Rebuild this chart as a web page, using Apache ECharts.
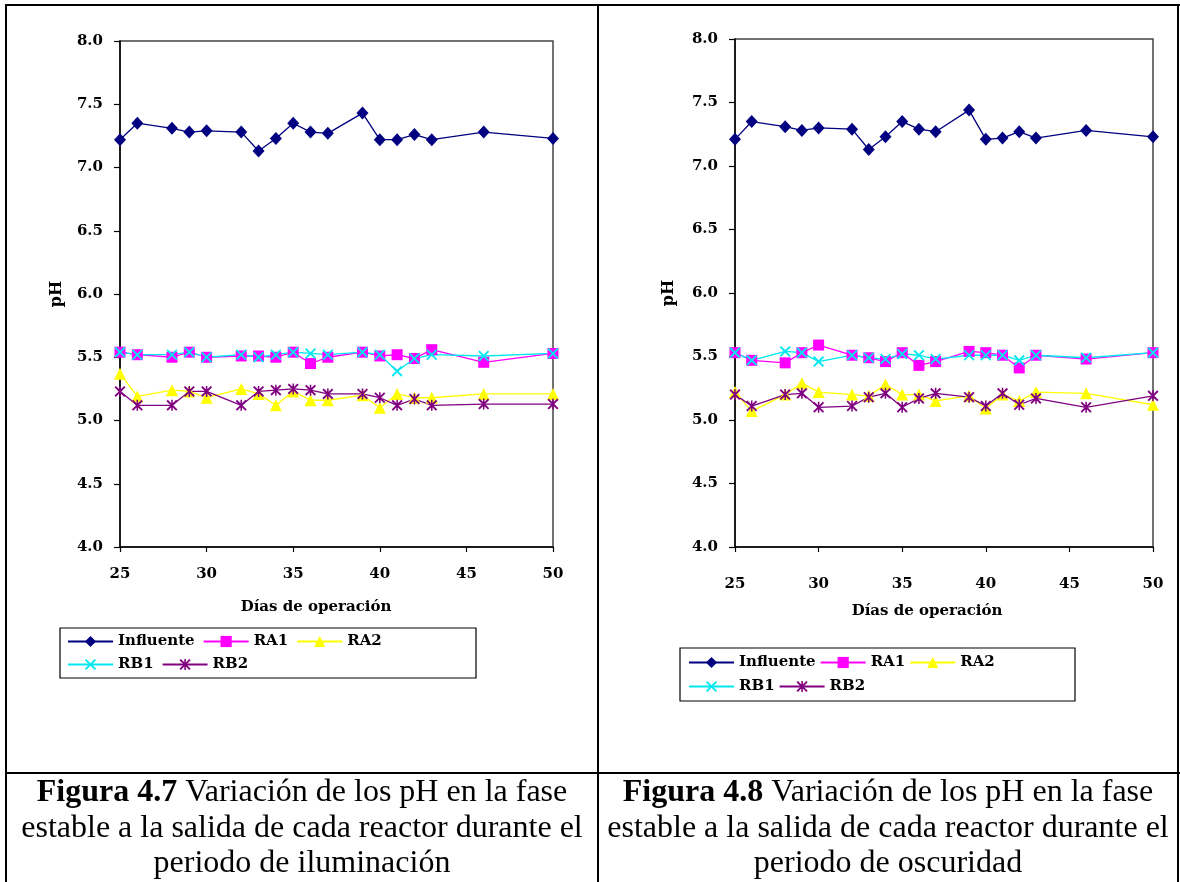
<!DOCTYPE html>
<html>
<head>
<meta charset="utf-8">
<script src="https://cdn.jsdelivr.net/npm/echarts@6/dist/echarts.min.js"></script>
<style>
html,body{margin:0;padding:0;background:#fff;}
#c{width:1180px;height:882px;}
</style>
</head>
<body>
<div id="c"></div>
<script>
// ---- data ----
const days = [25,26,28,29,30,32,33,34,35,36,37,39,40,41,42,43,46,50];
const seriesNames = ['Influente','RA1','RA2','RB1','RB2'];

// Figura 4.7 (iluminación)
const inf_L = [7.22,7.35,7.31,7.28,7.29,7.28,7.13,7.23,7.35,7.28,7.27,7.43,7.22,7.22,7.26,7.22,7.28,7.23];
const ra1_L = [5.54,5.52,5.50,5.54,5.50,5.51,5.51,5.50,5.54,5.45,5.50,5.54,5.51,5.52,5.49,5.56,5.46,5.53];
const ra2_L = [5.37,5.19,5.24,5.23,5.18,5.25,5.21,5.12,5.23,5.16,5.16,5.20,5.10,5.21,5.18,5.18,5.21,5.21];
const rb1_L = [5.54,5.52,5.52,5.54,5.50,5.52,5.50,5.52,5.54,5.53,5.52,5.54,5.52,5.39,5.49,5.52,5.51,5.53];
const rb2_L = [5.23,5.12,5.12,5.23,5.23,5.12,5.23,5.24,5.25,5.24,5.21,5.21,5.18,5.12,5.17,5.12,5.13,5.13];

// Figura 4.8 (oscuridad)
const inf_R = [7.21,7.35,7.31,7.28,7.30,7.29,7.13,7.23,7.35,7.29,7.27,7.44,7.21,7.22,7.27,7.22,7.28,7.23];
const ra1_R = [5.53,5.47,5.45,5.53,5.59,5.51,5.49,5.46,5.53,5.43,5.46,5.54,5.53,5.51,5.41,5.51,5.48,5.53];
const ra2_R = [5.22,5.07,5.20,5.29,5.22,5.20,5.19,5.28,5.20,5.20,5.15,5.19,5.09,5.20,5.15,5.22,5.21,5.12];
const rb1_R = [5.53,5.47,5.54,5.53,5.46,5.51,5.49,5.48,5.52,5.51,5.48,5.51,5.51,5.51,5.47,5.51,5.49,5.53];
const rb2_R = [5.20,5.11,5.20,5.21,5.10,5.11,5.18,5.21,5.10,5.17,5.21,5.18,5.11,5.21,5.12,5.17,5.10,5.19];

const xTicks = {min:25, max:50, step:5};
const yTicks = {min:4.0, max:8.0, step:0.5};
const xName = 'Días de operación';
const yName = 'pH';
const captionL = ['{b|Figura 4.7} Variación de los pH en la fase','estable a la salida de cada reactor durante el','periodo de iluminación'];
const captionR = ['{b|Figura 4.8} Variación de los pH en la fase','estable a la salida de cada reactor durante el','periodo de oscuridad'];

// ---- styles ----
const FONT = 'DejaVu Serif';
const CAPFONT = 'Liberation Serif';
const X_PATH = 'path://M0,1.2L1.2,0L5,3.8L8.8,0L10,1.2L6.2,5L10,8.8L8.8,10L5,6.2L1.2,10L0,8.8L3.8,5Z';
const AST_PATH = 'path://M0,1.2L1.2,0L5,3.8L8.8,0L10,1.2L6.2,5L10,8.8L8.8,10L5,6.2L1.2,10L0,8.8L3.8,5Z M4.3,0L5.7,0L5.7,10L4.3,10Z';
const styles = {
  'Influente': {color:'#000080', symbol:'diamond', size:[12,13]},
  'RA1': {color:'#FF00FF', symbol:'rect', size:11},
  'RA2': {color:'#FFFF00', symbol:'triangle', size:12},
  'RB1': {color:'#00E8F0', symbol:X_PATH, size:11},
  'RB2': {color:'#800080', symbol:AST_PATH, size:11}
};

function mk(name, vals, gi){
  const s = styles[name];
  return {
    type:'line', name:name, xAxisIndex:gi, yAxisIndex:gi,
    data: days.map((d,i)=>[d, vals[i]]),
    symbol:s.symbol, symbolSize:s.size, showAllSymbol:true,
    lineStyle:{color:s.color, width:1.3},
    itemStyle:{color:s.color},
    emphasis:{disabled:true},
    animation:false
  };
}

const grids = [
  {left:120, top:41, width:433, height:506},
  {left:735, top:39, width:418, height:508}
];

function xAxis(gi, margin){
  return {
    type:'value', gridIndex:gi, min:xTicks.min, max:xTicks.max, interval:xTicks.step,
    axisLine:{show:true, lineStyle:{color:'#000', width:1.5}},
    axisTick:{show:true, inside:false, length:5, lineStyle:{color:'#000', width:1.2}},
    axisLabel:{color:'#000', fontFamily:FONT, fontWeight:'bold', fontSize:15, margin:margin},
    splitLine:{show:false}
  };
}
function yAxis(gi, gap){
  return {
    type:'value', gridIndex:gi, min:yTicks.min, max:yTicks.max, interval:yTicks.step,
    name:yName, nameLocation:'middle', nameRotate:90, nameGap:gap,
    nameTextStyle:{color:'#000', fontFamily:FONT, fontWeight:'bold', fontSize:16},
    axisLine:{show:true, lineStyle:{color:'#000', width:1.5}},
    axisTick:{show:true, inside:false, length:6, lineStyle:{color:'#000', width:1.2}},
    axisLabel:{color:'#000', fontFamily:FONT, fontWeight:'bold', fontSize:15, margin:17,
      formatter:v=>v.toFixed(1)},
    splitLine:{show:false}
  };
}

function legend(names, left, top, textW, gap){
  return {
    data:names, left:left, top:top, orient:'horizontal', padding:0,
    itemWidth:45, itemHeight:14, itemGap:gap, selectedMode:false,
    textStyle:{color:'#000', fontFamily:FONT, fontWeight:'bold', fontSize:15, width:textW, overflow:'none'}
  };
}

function capText(lines, cx){
  const ys = [793, 829, 864];
  return lines.map((t,i)=>({
    type:'text', x:cx, y:ys[i], silent:true,
    style:{text:t, textAlign:'center', textVerticalAlign:'middle', fill:'#000',
      fontFamily:CAPFONT, fontSize:32,
      rich:{b:{fontFamily:CAPFONT, fontSize:32, fontWeight:'bold', fill:'#000'}}}
  }));
}
function line(x1,y1,x2,y2,w){
  return {type:'line', silent:true, shape:{x1,y1,x2,y2}, style:{stroke:'#000', lineWidth:w||2}};
}

const graphics = [
  line(5,5,1180,5), line(6,4,6,882), line(598,4,598,882), line(1178,4,1178,882),
  line(5,773,1180,773),
  {type:'rect', silent:true, shape:{x:60, y:628, width:416, height:50}, style:{fill:'none', stroke:'#000', lineWidth:1.2}},
  {type:'rect', silent:true, shape:{x:680, y:648, width:395, height:53}, style:{fill:'none', stroke:'#000', lineWidth:1.2}},
  {type:'text', x:316, y:607, silent:true, style:{text:xName, textAlign:'center', textVerticalAlign:'middle', fill:'#000', fontFamily:FONT, fontWeight:'bold', fontSize:15}},
  {type:'text', x:927, y:611, silent:true, style:{text:xName, textAlign:'center', textVerticalAlign:'middle', fill:'#000', fontFamily:FONT, fontWeight:'bold', fontSize:15}}
].concat(capText(captionL, 302)).concat(capText(captionR, 888));

const series = [];
[[inf_L,ra1_L,ra2_L,rb1_L,rb2_L],[inf_R,ra1_R,ra2_R,rb1_R,rb2_R]].forEach((set,gi)=>{
  set.forEach((vals,k)=>series.push(mk(seriesNames[k], vals, gi)));
});

const chart = echarts.init(document.getElementById('c'), null, {renderer:'canvas'});
chart.setOption({
  animation:false,
  backgroundColor:'#fff',
  grid: grids.map(g=>Object.assign({show:true, borderColor:'#444', borderWidth:1.5, containLabel:false}, g)),
  xAxis:[xAxis(0,20), xAxis(1,30)],
  yAxis:[yAxis(0,55), yAxis(1,58)],
  legend:[
    legend(['Influente','RA1','RA2'], 67, 634, 80, 8),
    legend(['RB1','RB2'], 67, 657, 80, 8),
    legend(['Influente','RA1','RA2'], 688, 655, 76, 4),
    legend(['RB1','RB2'], 688, 679, 76, 4)
  ],
  series:series,
  graphic:graphics
});
</script>
</body>
</html>
